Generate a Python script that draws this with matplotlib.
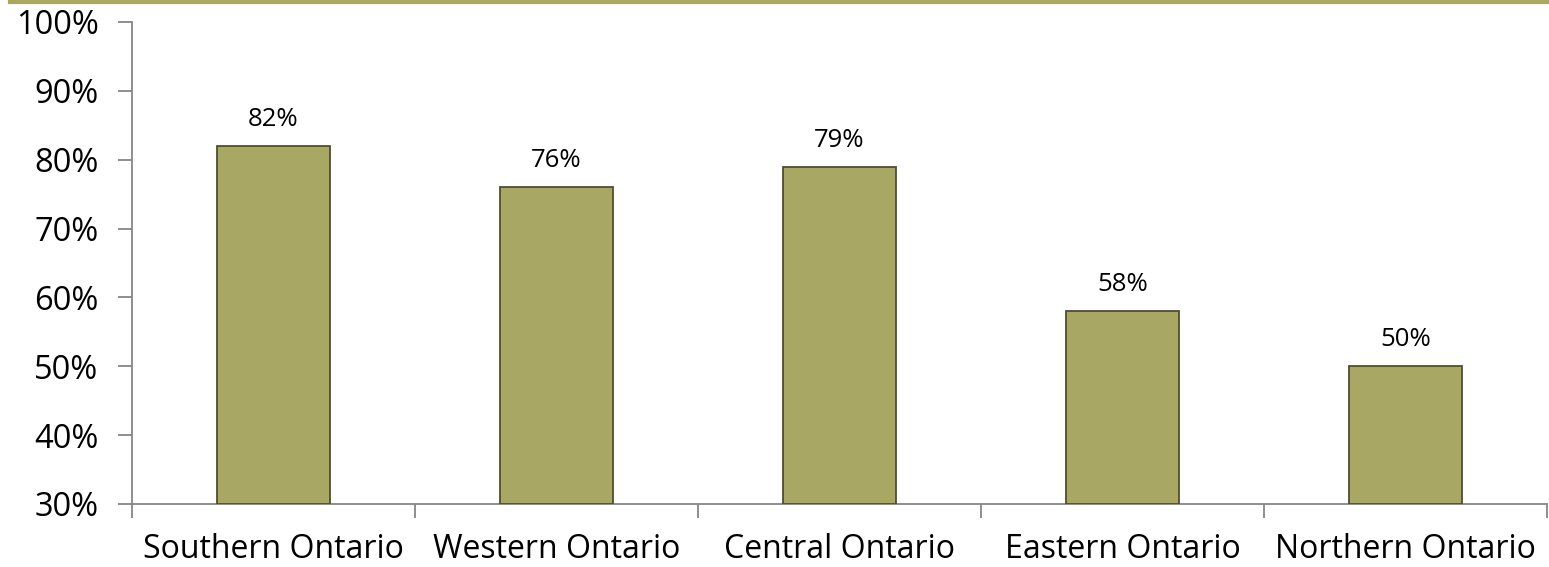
import matplotlib
matplotlib.use("Agg")
import matplotlib.pyplot as plt
from matplotlib.lines import Line2D

categories = ["Southern Ontario", "Western Ontario", "Central Ontario", "Eastern Ontario", "Northern Ontario"]
values = [82, 76, 79, 58, 50]
yticks = [30, 40, 50, 60, 70, 80, 90, 100]

W, H = 1549, 567
fig = plt.figure(figsize=(W / 100, H / 100), dpi=100)
plt.rcParams['font.family'] = ['Open Sans', 'DejaVu Sans']

left, right, bottom, top = 132, 1547, 504, 22
ax = fig.add_axes([left / W, 1 - bottom / H, (right - left) / W, (bottom - top) / H])

x = list(range(len(categories)))
bars = ax.bar(x, [v - 30 for v in values], bottom=30, width=0.40,
              color="#A8A763", edgecolor="#4F4E2B", linewidth=1.3, zorder=3)

for xi, v in zip(x, values):
    ax.annotate(f"{v}%", (xi, v), xytext=(0, 10), textcoords="offset points",
                ha="center", va="bottom", fontsize=18.5, color="#000000")

ax.set_xlim(-0.5, len(categories) - 0.5)
ax.set_ylim(30, 100)
ax.set_yticks(yticks)
ax.set_yticklabels([f"{t}%" for t in yticks], fontsize=23.5)

ax.set_xticks([i - 0.5 for i in range(len(categories) + 1)])
ax.set_xticklabels([])
ax.set_xticks(x, minor=True)
ax.set_xticklabels(categories, minor=True, fontsize=23)
ax.tick_params(axis="x", which="minor", length=0, pad=21)
ax.tick_params(axis="x", which="major", length=10, width=1.3, color="#868686", direction="out")
ax.tick_params(axis="y", length=10, width=1.3, color="#868686", direction="out", pad=14)

for s in ["top", "right"]:
    ax.spines[s].set_visible(False)
for s in ["left", "bottom"]:
    ax.spines[s].set_color("#868686")
    ax.spines[s].set_linewidth(1.3)

# top decorative line
fig.add_artist(Line2D([10 / W, 1.0], [1 - 1.5 / H, 1 - 1.5 / H], color="#A9A862", linewidth=3,
                      transform=fig.transFigure))

fig.savefig("out.png", dpi=100)
